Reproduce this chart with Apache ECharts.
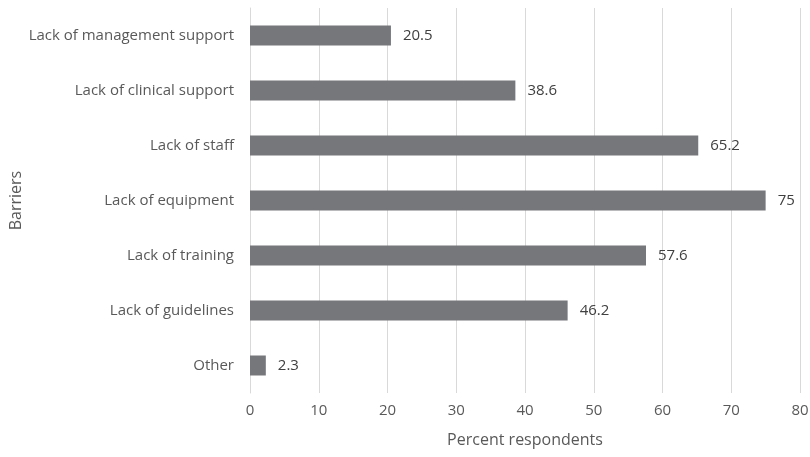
<!DOCTYPE html>
<html>
<head>
<meta charset="utf-8">
<script src="https://cdn.jsdelivr.net/npm/echarts@6/dist/echarts.min.js"></script>
<style>html,body{margin:0;padding:0;background:#fff}#c{width:810px;height:457px}</style>
</head>
<body>
<div id="c"></div>
<script>
const categories = ["Lack of management support","Lack of clinical support","Lack of staff","Lack of equipment","Lack of training","Lack of guidelines","Other"];
const values = [20.5, 38.6, 65.2, 75, 57.6, 46.2, 2.3];
const xTicks = [0,10,20,30,40,50,60,70,80];

const chart = echarts.init(document.getElementById('c'), null, {renderer:'canvas'});
const font = '"Open Sans", "Noto Sans", sans-serif';
chart.setOption({
  animation: false,
  backgroundColor: '#ffffff',
  grid: {left: 250, right: 10, top: 8, bottom: 64, containLabel: false, outerBoundsMode: 'none'},
  xAxis: {
    type: 'value', min: xTicks[0], max: xTicks[xTicks.length-1], interval: 10,
    name: 'Percent respondents', nameLocation: 'middle', nameGap: 39, nameMoveOverlap: false,
    nameTextStyle: {fontFamily: font, fontSize: 16, color: '#595959'},
    axisLine: {show: false}, axisTick: {show: false},
    axisLabel: {fontFamily: font, fontSize: 15, color: '#595959', margin: 10},
    splitLine: {show: true, lineStyle: {color: '#d9d9d9', width: 1}}
  },
  yAxis: {
    type: 'category', data: categories, inverse: true,
    name: 'Barriers', nameLocation: 'middle', nameGap: 226, nameRotate: 90, nameMoveOverlap: false,
    nameTextStyle: {fontFamily: font, fontSize: 16, color: '#595959'},
    axisLine: {show: true, lineStyle: {color: '#d9d9d9'}}, axisTick: {show: false},
    axisLabel: {fontFamily: font, fontSize: 15, color: '#595959', margin: 16}
  },
  series: [{
    type: 'bar', data: values, barWidth: 20,
    itemStyle: {color: '#76777b'},
    label: {show: true, position: 'right', distance: 12, fontFamily: font, fontSize: 15, color: '#404040'}
  }]
});
</script>
</body>
</html>
